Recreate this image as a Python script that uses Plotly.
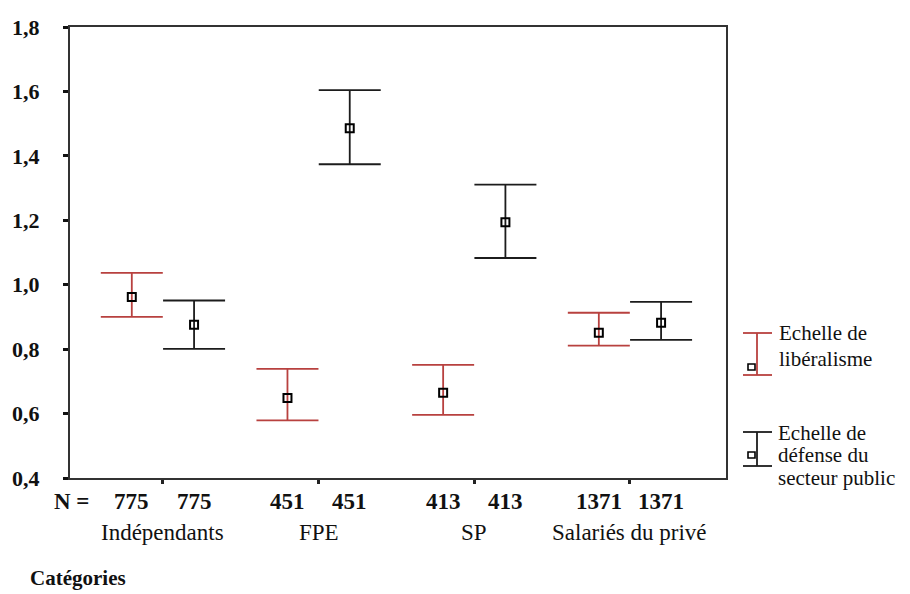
import plotly.graph_objects as go

# ---- data ----
categories = ["Indépendants", "FPE", "SP", "Salariés du privé"]
n_lib = [775, 451, 413, 1371]
n_def = [775, 451, 413, 1371]
mean_lib = [0.962, 0.648, 0.665, 0.851]
upper_lib = [1.037, 0.739, 0.751, 0.913]
lower_lib = [0.900, 0.579, 0.596, 0.811]
mean_def = [0.876, 1.486, 1.194, 0.882]
upper_def = [0.951, 1.604, 1.311, 0.947]
lower_def = [0.801, 1.374, 1.083, 0.829]
y_ticks = [0.4, 0.6, 0.8, 1.0, 1.2, 1.4, 1.6, 1.8]
y_ticktext = ["0,4", "0,6", "0,8", "1,0", "1,2", "1,4", "1,6", "1,8"]
legend_lib = ["Echelle de", "libéralisme"]
legend_def = ["Echelle de", "défense du", "secteur public"]

RED = "#b8413f"
BLK = "#1c1c1c"
FONT = "Liberation Serif"
OFF = 0.2

idx = list(range(len(categories)))
x_lib = [i - OFF for i in idx]
x_def = [i + OFF for i in idx]

fig = go.Figure()


def add_series(xs, means, ups, lows, color, name):
    fig.add_trace(go.Scatter(
        x=xs, y=means, mode="markers", name=name, showlegend=False,
        marker=dict(symbol="square-open", size=8, color="black",
                    line=dict(width=2, color="black")),
        error_y=dict(type="data", symmetric=False,
                     array=[u - m for u, m in zip(ups, means)],
                     arrayminus=[m - l for m, l in zip(means, lows)],
                     color=color, thickness=1.8, width=31),
    ))


add_series(x_lib, mean_lib, upper_lib, lower_lib, RED, "Echelle de libéralisme")
add_series(x_def, mean_def, upper_def, lower_def, BLK, "Echelle de défense du secteur public")

# geometry (the page body has an 8px margin, so the figure is drawn 8px in)
PAGE_OFF = 8
W, H = 910 - PAGE_OFF, 594 - PAGE_OFF
L, T = 70 - PAGE_OFF, 27 - PAGE_OFF
R, B = W - (726 - PAGE_OFF), H - (478 - PAGE_OFF)
PW, PH = W - L - R, H - T - B


def px(xp):
    return (xp - PAGE_OFF - L) / PW


def py(yp):
    return (H - B - (yp - PAGE_OFF)) / PH


ann = []
# N labels
for xs, ns in ((x_lib, n_lib), (x_def, n_def)):
    for x, n in zip(xs, ns):
        ann.append(dict(x=x, y=0, xref="x", yref="paper", text=f"<b>{n}</b>",
                        showarrow=False, yanchor="top", yshift=-9,
                        font=dict(family=FONT, size=23, color="#111")))
ann.append(dict(x=px(52), y=0, xref="paper", yref="paper", text="<b>N =</b>",
                showarrow=False, yanchor="top", yshift=-9,
                font=dict(family=FONT, size=23, color="#111")))
# category names
for i, c in zip(idx, categories):
    ann.append(dict(x=i, y=0, xref="x", yref="paper", text=c, showarrow=False,
                    yanchor="top", yshift=-40,
                    font=dict(family=FONT, size=23, color="#111")))
ann.append(dict(x=px(28), y=0, xref="paper", yref="paper", text="<b>Catégories</b>",
                showarrow=False, xanchor="left", yanchor="top", yshift=-86,
                font=dict(family=FONT, size=21, color="#111")))

# legend text
for t, yy in zip(legend_lib, (333, 359)):
    ann.append(dict(x=px(777), y=py(yy), xref="paper", yref="paper", text=t,
                    showarrow=False, xanchor="left", yanchor="middle",
                    font=dict(family=FONT, size=21, color="#111")))
for t, yy in zip(legend_def, (433, 455, 478)):
    ann.append(dict(x=px(776), y=py(yy), xref="paper", yref="paper", text=t,
                    showarrow=False, xanchor="left", yanchor="middle",
                    font=dict(family=FONT, size=21, color="#111")))

shapes = []


def legend_glyph(color, ytop, ybot, ysq):
    ln = dict(color=color, width=1.8)
    shapes.append(dict(type="line", xref="paper", yref="paper",
                       x0=px(743), x1=px(772), y0=py(ytop), y1=py(ytop), line=ln))
    shapes.append(dict(type="line", xref="paper", yref="paper",
                       x0=px(743), x1=px(772), y0=py(ybot), y1=py(ybot), line=ln))
    shapes.append(dict(type="line", xref="paper", yref="paper",
                       x0=px(757), x1=px(757), y0=py(ytop), y1=py(ybot), line=ln))
    shapes.append(dict(type="rect", xref="paper", yref="paper",
                       x0=px(748), x1=px(755), y0=py(ysq - 3), y1=py(ysq + 3),
                       line=dict(color="black", width=1.6), fillcolor="white"))


legend_glyph(RED, 333, 375, 367)
legend_glyph(BLK, 432, 466, 455)

fig.update_layout(
    width=W, height=H,
    margin=dict(l=L, r=R, t=T, b=B, autoexpand=False),
    paper_bgcolor="white", plot_bgcolor="white",
    showlegend=False,
    annotations=ann, shapes=shapes,
    xaxis=dict(range=[-0.597, 3.617], showgrid=False, zeroline=False,
               automargin=False,
               showline=True, linecolor="#333", linewidth=2, mirror=True,
               tickvals=idx, ticktext=["" for _ in idx],
               ticks="outside", ticklen=4, tickwidth=3, tickcolor="#222"),
    yaxis=dict(range=[0.4, 1.8], showgrid=False, zeroline=False,
               automargin=False,
               showline=True, linecolor="#333", linewidth=2, mirror=True,
               tickvals=y_ticks, ticktext=y_ticktext,
               ticks="outside", ticklen=5, tickwidth=3, tickcolor="#111",
               ticklabelstandoff=19,
               tickfont=dict(family=FONT, size=22, color="#111", weight="bold")),
)

fig.write_html("out.html")
